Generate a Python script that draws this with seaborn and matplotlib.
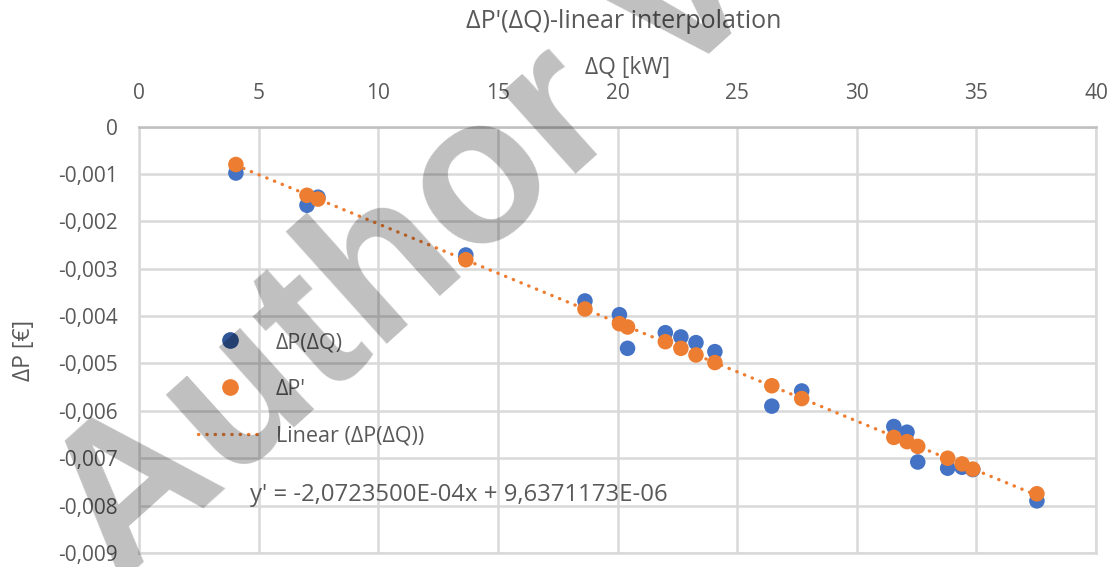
import matplotlib
matplotlib.use("Agg")
import numpy as np
import pandas as pd
import seaborn as sns
import matplotlib.pyplot as plt
from matplotlib.lines import Line2D
from matplotlib.ticker import FuncFormatter, FixedLocator

# ---- data ----
title = "ΔP'(ΔQ)-linear interpolation"
x_label = "ΔQ [kW]"
y_label = "ΔP [€]"
series_names = ["ΔP(ΔQ)", "ΔP'", "Linear (ΔP(ΔQ))"]
equation = "y' = -2,0723500E-04x + 9,6371173E-06"
watermark = "Author Version"

dq = [4.05, 7.02, 7.48, 13.66, 18.64, 20.08, 20.42, 22.0, 22.65, 23.28,
      24.07, 26.45, 27.7, 31.55, 32.1, 32.55, 33.8, 34.4, 34.85, 37.53]
dp = [-0.00098, -0.00166, -0.00149, -0.00271, -0.00368, -0.00397, -0.00468,
      -0.00435, -0.00444, -0.00456, -0.00475, -0.00590, -0.00558, -0.00633,
      -0.00645, -0.00708, -0.00721, -0.00719, -0.00724, -0.00790]
dp_prime = [-0.00080, -0.00145, -0.00153, -0.00281, -0.00385, -0.00416,
            -0.00423, -0.00454, -0.00468, -0.00482, -0.00498, -0.00547,
            -0.00574, -0.00656, -0.00665, -0.00675, -0.00700, -0.00712,
            -0.00723, -0.00775]
x_ticks = [0, 5, 10, 15, 20, 25, 30, 35, 40]
y_ticks = [0, -0.001, -0.002, -0.003, -0.004, -0.005, -0.006, -0.007, -0.008, -0.009]

# ---- style ----
BLUE = "#4472C4"
BLUE_LEG = "#2F5597"
ORANGE = "#ED7D31"
GRID = "#D9D9D9"
TXT = "#595959"
DOTS = (0, (0.1, 2.4))

sns.set_theme(style="whitegrid")
plt.rcParams["font.family"] = ["Open Sans", "DejaVu Sans"]

W, H = 1117, 567
fig = plt.figure(figsize=(W / 100, H / 100), dpi=100)
L, R, T, B = 139, 1096, 126.6, 553
ax = fig.add_axes([L / W, 1 - B / H, (R - L) / W, (B - T) / H])

df = pd.DataFrame({"dq": dq, "dp": dp, "dpp": dp_prime})

sns.regplot(data=df, x="dq", y="dp", scatter=False, ci=None, ax=ax,
            color=ORANGE,
            line_kws=dict(lw=2.4, linestyle=DOTS,
                          dash_capstyle="round", zorder=2))
sns.scatterplot(data=df, x="dq", y="dp", ax=ax, color=BLUE, s=125,
                edgecolor="none", zorder=3, legend=False)
sns.scatterplot(data=df, x="dq", y="dpp", ax=ax, color=ORANGE, s=125,
                edgecolor="none", zorder=4, legend=False)

ax.set_xlim(0, 40)
ax.set_ylim(-0.009, 0)
ax.xaxis.set_major_locator(FixedLocator(x_ticks))
ax.yaxis.set_major_locator(FixedLocator(y_ticks))
ax.yaxis.set_major_formatter(FuncFormatter(
    lambda v, p: "0" if abs(v) < 1e-12 else f"{v:.3f}".replace(".", ",")))
ax.xaxis.tick_top()
ax.tick_params(axis="x", length=0, pad=16, labelsize=15, labelcolor=TXT)
ax.tick_params(axis="y", length=0, pad=15, labelsize=15, labelcolor=TXT)
ax.grid(True, color=GRID, lw=1.8)
ax.set_xlabel("")
ax.set_ylabel("")
for s in ax.spines.values():
    s.set_visible(True)
    s.set_color(GRID)
    s.set_linewidth(1.8)
ax.spines["top"].set_color("#BFBFBF")

fig.text(624 / W, 1 - 21 / H, title, ha="center", va="center",
         fontsize=18, color=TXT)
fig.text(628 / W, 1 - 68 / H, x_label, ha="center", va="center",
         fontsize=16.5, color=TXT)
fig.text(24 / W, 1 - 350 / H, y_label, ha="center", va="center",
         rotation=90, fontsize=16.5, color=TXT)
fig.text(250 / W, 1 - 495 / H, equation, ha="left", va="center",
         fontsize=17.2, color=TXT)

handles = [
    Line2D([], [], ls="none", marker="o", markersize=11, color=BLUE_LEG),
    Line2D([], [], ls="none", marker="o", markersize=11, color=ORANGE),
    Line2D([], [], color=ORANGE, lw=2.4, linestyle=DOTS,
           dash_capstyle="round"),
]
leg = fig.legend(handles, series_names, loc="upper left",
                 bbox_to_anchor=(198 / W, 1 - 332 / H), frameon=False,
                 fontsize=15.5, labelcolor=TXT, handlelength=3.0,
                 handletextpad=0.6, labelspacing=1.2, borderpad=0,
                 borderaxespad=0)

fig.text(119 / W, 1 - 586 / H, watermark, rotation=42, rotation_mode="anchor",
         ha="left", va="baseline", fontsize=150, fontweight="bold",
         color="black", alpha=0.25, family="Liberation Sans", zorder=10)

fig.savefig("out.png", dpi=100)
